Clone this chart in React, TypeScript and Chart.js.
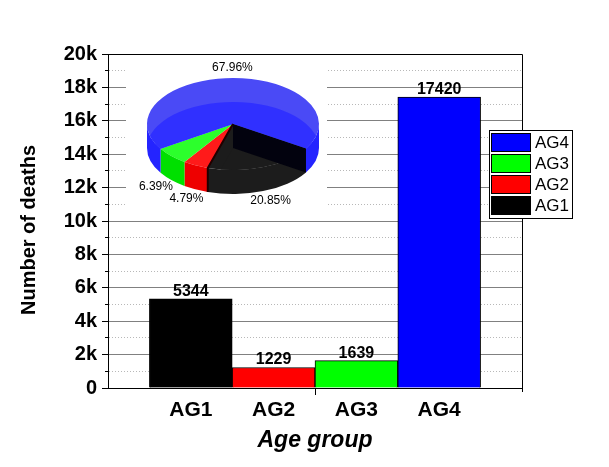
import React, { useEffect, useRef } from 'react';
import { Chart, registerables } from 'chart.js';

Chart.register(...registerables);

// ---- data ----
const categories = ['AG1', 'AG2', 'AG3', 'AG4'];
const deaths = [5344, 1229, 1639, 17420];
const barColors = ['#000000', '#ff0000', '#00ff00', '#0000ff'];
const yMin = 0;
const yMax = 20000;
const yMajorStep = 2000;
const yMinorStep = 1000;
const yTitle = 'Number of deaths';
const xTitle = 'Age group';

// pie shading (top face, bottom seen through top face, side wall)
const pieTop = ['#1c1c1c', '#ff1a1a', '#2cff2c', '#4a4af6'];
const pieBottom = ['#1c1c1c', '#ff1a1a', '#2cff2c', '#3030ff'];
const pieWall = ['#1c1c1c', '#ee0000', '#00e000', '#2424ff'];

const FONT = '"Liberation Sans", Arial, Helvetica, sans-serif';
const xMinUnit = 0;
const xMaxUnit = categories.length + 1;

const isMajor = (v: number) => Math.abs(v % yMajorStep) < 1e-6;

function sector(ctx: CanvasRenderingContext2D, cx: number, cy: number, rx: number, ry: number, a0: number, a1: number) {
  ctx.beginPath();
  ctx.moveTo(cx, cy);
  ctx.ellipse(cx, cy, rx, ry, 0, a0, a1);
  ctx.closePath();
}

function wall(ctx: CanvasRenderingContext2D, cx: number, cy: number, rx: number, ry: number, d: number, a: number, b: number) {
  ctx.beginPath();
  ctx.ellipse(cx, cy, rx, ry, 0, a, b);
  ctx.ellipse(cx, cy + d, rx, ry, 0, b, a, true);
  ctx.closePath();
}

const piePlugin = {
  id: 'pieInset',
  beforeDatasetsDraw(chart: any) {
    const { ctx, chartArea: ca } = chart;
    ctx.save();
    ctx.fillStyle = '#ffffff';
    ctx.fillRect(ca.left + 18, ca.top + 1, 201, 158);

    const cx = ca.left + 125;
    const cy = ca.top + 70;
    const rx = 86;
    const ry = 46;
    const d = 24;
    const total = deaths.reduce((s, v) => s + v, 0);
    let a = (32 * Math.PI) / 180;
    const slices = deaths.map((v, i) => {
      const span = (v / total) * Math.PI * 2;
      const s = { i, v, a0: a, a1: a + span };
      a += span;
      return s;
    });

    // top faces
    slices.forEach((s) => {
      ctx.fillStyle = pieTop[s.i];
      sector(ctx, cx, cy, rx, ry, s.a0, s.a1);
      ctx.fill();
    });
    // bottom faces seen through the top
    slices.forEach((s) => {
      ctx.save();
      sector(ctx, cx, cy, rx, ry, s.a0, s.a1);
      ctx.clip();
      ctx.fillStyle = pieBottom[s.i];
      sector(ctx, cx, cy + d, rx, ry, s.a0, s.a1);
      ctx.fill();
      ctx.restore();
    });
    // front walls
    const TWO = Math.PI * 2;
    slices.forEach((s) => {
      ctx.fillStyle = pieWall[s.i];
      [[0, Math.PI], [TWO, TWO + Math.PI]].forEach(([lo, hi]) => {
        const p = Math.max(lo, s.a0);
        const q = Math.min(hi, s.a1);
        if (q > p) {
          wall(ctx, cx, cy, rx, ry, d, p, q);
          ctx.fill();
        }
      });
    });
    // dark cut wall of first slice
    const s0 = slices[0];
    const ex = cx + rx * Math.cos(s0.a0);
    const ey = cy + ry * Math.sin(s0.a0);
    ctx.fillStyle = '#02020e';
    ctx.beginPath();
    ctx.moveTo(cx, cy);
    ctx.lineTo(ex, ey);
    ctx.lineTo(ex, ey + d);
    ctx.lineTo(cx, cy + d);
    ctx.closePath();
    ctx.fill();
    // dark edge between slice 1 and 2
    const s1 = slices[1];
    const fx = cx + rx * Math.cos(s1.a0);
    const fy = cy + ry * Math.sin(s1.a0);
    ctx.strokeStyle = '#200000';
    ctx.lineWidth = 2;
    ctx.beginPath();
    ctx.moveTo(cx, cy);
    ctx.lineTo(fx, fy);
    ctx.lineTo(fx, fy + d);
    ctx.stroke();

    // percentage labels
    ctx.fillStyle = '#000';
    ctx.font = `12px ${FONT}`;
    ctx.textAlign = 'center';
    ctx.textBaseline = 'middle';
    slices.forEach((s) => {
      const m = (s.a0 + s.a1) / 2;
      const sn = Math.sin(m);
      const x = cx + rx * 1.25 * Math.cos(m);
      const y = cy + (sn > 0 ? d : 0) + ry * 1.22 * sn;
      ctx.fillText(((s.v / total) * 100).toFixed(2) + '%', x, y);
    });
    ctx.restore();
  },
};

const valuePlugin = {
  id: 'valueLabels',
  afterDatasetsDraw(chart: any) {
    const { ctx } = chart;
    const meta = chart.getDatasetMeta(0);
    ctx.save();
    ctx.fillStyle = '#000';
    ctx.font = `bold 16px ${FONT}`;
    ctx.textAlign = 'center';
    ctx.textBaseline = 'alphabetic';
    meta.data.forEach((el: any, i: number) => {
      ctx.fillText(String(deaths[i]), el.x, el.y - 3);
    });
    ctx.restore();
  },
};

const framePlugin = {
  id: 'frameLegend',
  afterDraw(chart: any) {
    const { ctx, chartArea: ca } = chart;
    ctx.save();
    // top & right frame
    ctx.strokeStyle = '#000';
    ctx.lineWidth = 1;
    ctx.beginPath();
    ctx.moveTo(ca.left, ca.top + 0.5);
    ctx.lineTo(ca.right + 0.5, ca.top + 0.5);
    ctx.lineTo(ca.right + 0.5, ca.bottom + 4);
    ctx.stroke();

    // centre tick on the x axis
    const xs = chart.scales.x;
    const tx = Math.round(xs.getPixelForValue((xMinUnit + xMaxUnit) / 2)) + 0.5;
    ctx.beginPath();
    ctx.moveTo(tx, ca.bottom);
    ctx.lineTo(tx, ca.bottom + 7);
    ctx.stroke();

    // y title
    ctx.fillStyle = '#000';
    ctx.font = `bold 20px ${FONT}`;
    ctx.textAlign = 'center';
    ctx.textBaseline = 'middle';
    ctx.translate(ca.left - 79, (ca.top + ca.bottom) / 2 + 9);
    ctx.rotate(-Math.PI / 2);
    ctx.fillText(yTitle, 0, 0);
    ctx.restore();

    // legend
    ctx.save();
    const bx = ca.right - 33;
    const by = ca.top + 76;
    ctx.fillStyle = '#fff';
    ctx.fillRect(bx, by, 83, 88);
    ctx.strokeStyle = '#000';
    ctx.lineWidth = 1;
    ctx.strokeRect(bx + 0.5, by + 0.5, 83, 88);
    ctx.font = `17px ${FONT}`;
    ctx.textAlign = 'left';
    ctx.textBaseline = 'middle';
    const order = categories.map((_, i) => i).reverse();
    order.forEach((ci, k) => {
      const sy = by + 3 + k * 21;
      ctx.fillStyle = barColors[ci];
      ctx.fillRect(bx + 2, sy, 40, 19);
      ctx.strokeStyle = '#000';
      ctx.strokeRect(bx + 2.5, sy + 0.5, 39, 18);
      ctx.fillStyle = '#000';
      ctx.fillText(categories[ci], bx + 46, sy + 10);
    });
    ctx.restore();
  },
};

export default function App() {
  const ref = useRef<HTMLCanvasElement | null>(null);

  useEffect(() => {
    if (!ref.current) return;
    const chart = new Chart(ref.current, {
      type: 'bar',
      data: {
        datasets: [
          {
            data: deaths.map((v, i) => ({ x: i + 1, y: v })),
            backgroundColor: barColors,
            borderColor: '#000000',
            borderWidth: 1,
            barPercentage: 1,
            categoryPercentage: 1,
          },
        ],
      },
      options: {
        responsive: false,
        animation: false,
        layout: { padding: { top: 54, right: 87, left: 0, bottom: 0 } },
        plugins: { legend: { display: false }, tooltip: { enabled: false }, title: { display: false } },
        scales: {
          x: {
            type: 'linear',
            min: xMinUnit,
            max: xMaxUnit,
            offset: false,
            afterBuildTicks: (scale: any) => {
              scale.ticks = categories.map((_, i) => ({ value: i + 1 }));
            },
            afterFit: (scale: any) => {
              scale.height = 79;
            },
            ticks: {
              autoSkip: false,
              maxRotation: 0,
              padding: 3,
              color: '#000',
              font: { family: FONT, size: 21, weight: 'bold' },
              callback: (v: any) => (Number.isInteger(v) ? categories[v - 1] ?? '' : ''),
            },
            grid: {
              drawOnChartArea: false,
              drawTicks: true,
              tickLength: 7,
              color: 'rgba(0,0,0,0)',
              tickColor: 'rgba(0,0,0,0)',
            },
            border: { display: true, color: '#000', width: 1 },
            title: {
              display: true,
              text: xTitle,
              color: '#000',
              font: { family: FONT, size: 23, weight: 'bold', style: 'italic' },
              padding: { top: 0, bottom: 13 },
            },
          },
          y: {
            type: 'linear',
            min: yMin,
            max: yMax,
            afterFit: (scale: any) => {
              scale.width = 108;
            },
            ticks: {
              stepSize: yMinorStep,
              autoSkip: false,
              padding: 5,
              color: '#000',
              font: { family: FONT, size: 20, weight: 'bold' },
              callback: (v: any) => (isMajor(v) ? (v === 0 ? '0' : v / 1000 + 'k') : ''),
            },
            grid: {
              drawOnChartArea: true,
              drawTicks: true,
              tickLength: 6,
              lineWidth: 1,
              color: (c: any) => (c.tick && isMajor(c.tick.value) ? '#808080' : '#b8b8b8'),
              tickColor: '#000',
              tickBorderDash: (c: any) => (c.tick && !isMajor(c.tick.value) ? [0, 3, 3, 100] : []),
            },
            border: {
              display: true,
              color: '#000',
              width: 1,
              dash: (c: any) => (c.tick && !isMajor(c.tick.value) ? [1, 2] : []),
            },
          },
        },
      } as any,
      plugins: [piePlugin, valuePlugin, framePlugin],
    });
    return () => chart.destroy();
  }, []);

  return (
    <div style={{ position: 'absolute', left: 0, top: 0, width: 609, height: 467, background: '#fff' }}>
      <canvas ref={ref} width={609} height={467} style={{ display: 'block', width: 609, height: 467 }} />
    </div>
  );
}
